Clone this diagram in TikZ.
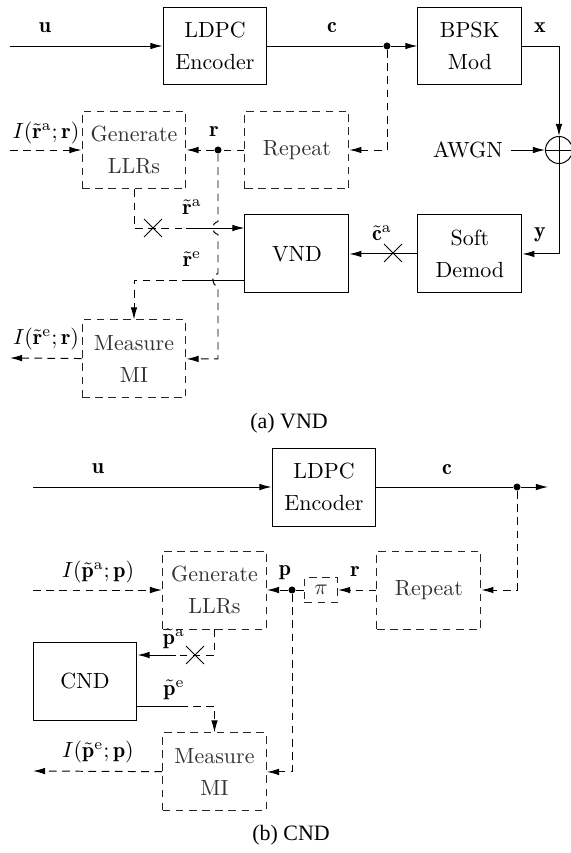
\documentclass[tikz,border=0pt]{standalone}
\usepackage{fontspec}
\newfontfamily\capfont{Liberation Serif}
\usetikzlibrary{arrows.meta, positioning, calc, shapes.misc}
\tikzset{
  block/.style={draw, align=center, minimum width=1.664cm, minimum height=1.248cm, inner sep=2pt, font=\linespread{1.2}\selectfont},
  dblock/.style={block, strich, draw=black!85, text=black!80},
  strich/.style={dash pattern=on 3.5pt off 2.5pt},
  pfeil/.style={-{Latex[length=5.5pt,width=3pt]}},
  punkt/.style={circle, fill, inner sep=0pt, minimum size=3.2pt},
  kreuz/.style={cross out, draw, inner sep=0pt, minimum size=0.27cm},
}
\begin{document}
\begin{tikzpicture}[x=0.016cm, y=0.016cm, line width=0.45pt]
    \useasboundingbox (0,0) rectangle (571,-853);
    % (a) VND
    \node[block] (enca) at (215,-46) {LDPC\\Encoder};
    \node[block, right=2.4cm of enca] (bpsk) {BPSK\\Mod};
    \node[dblock] (gena) at (134,-150) {Generate\\LLRs};
    \node[dblock, right=0.928cm of gena] (repa) {Repeat};
    \node[block, below=0.4cm of repa] (vnd) {VND};
    \node[block] (demod) at (bpsk |- vnd) {Soft\\Demod};
    \node[dblock, below=2.08cm of gena] (mesa) {Measure\\MI};
    \node[draw, circle, inner sep=0pt, minimum size=0.432cm] (add) at (559,-150) {};
    \node (awgn) at (468,-150) {AWGN};
    \node[punkt] (cdota) at (387,-46) {};
    \node[punkt] (rdota) at (218,-150) {};
    \node[kreuz] (xa1) at (153,-228) {};
    \node[kreuz] (xa2) at (393,-253) {};
    \coordinate (ua) at (10,-46);
    \coordinate (ina) at (10,-150);
    \coordinate (outa) at (10,-358);
    \coordinate (ra) at (186,-228);
    \coordinate (re) at (190,-280);
    \coordinate (j1o) at ($(rdota|-ra)+(0,6.5)$);
    \coordinate (j1u) at ($(rdota|-ra)+(0,-6.5)$);
    \coordinate (j2o) at ($(rdota|-re)+(0,6.5)$);
    \coordinate (j2u) at ($(rdota|-re)+(0,-6.5)$);
    \node (lua) at (45,-28) {$\mathbf{u}$};
    \node (lca) at (332,-28) {$\mathbf{c}$};
    \node (lx) at (540,-28) {$\mathbf{x}$};
    \node (ly) at (540,-235) {$\mathbf{y}$};
    \node (lra) at (214,-132) {$\mathbf{r}$};
    \node (lct) at (382,-233) {$\tilde{\mathbf{c}}^{\mathrm{a}}$};
    \node (lrta) at (192,-207) {$\tilde{\mathbf{r}}^{\mathrm{a}}$};
    \node (lrte) at (192,-259) {$\tilde{\mathbf{r}}^{\mathrm{e}}$};
    \node (lia) at (46,-133) {$I(\tilde{\mathbf{r}}^{\mathrm{a}};\mathbf{r})$};
    \node (lie) at (46,-339) {$I(\tilde{\mathbf{r}}^{\mathrm{e}};\mathbf{r})$};
    \draw[pfeil] (ua) -- (enca);
    \draw (enca) -- (cdota);
    \draw[pfeil] (cdota) -- (bpsk);
    \draw[pfeil] (bpsk.east) -| (add.north);
    \draw (add.north) -- (add.south) (add.west) -- (add.east);
    \draw[pfeil] (awgn) -- (add);
    \draw[pfeil] (add.south) |- (demod.east);
    \draw[pfeil] (demod) -- (vnd);
    \draw[strich, pfeil] (cdota) |- (repa);
    \draw[strich] (repa) -- (rdota);
    \draw[strich, pfeil] (rdota) -- (gena);
    \draw[strich, pfeil] (ina) -- (gena);
    \draw[strich] (gena.south) |- (ra);
    \draw[pfeil] (ra) -- (ra -| vnd.west);
    \draw (re -| vnd.west) -- (re);
    \draw[strich, pfeil] (re) -| (mesa.north);
    \draw[strich, pfeil] (rdota) -- (j1o) .. controls ($(j1o)+(-7,-2)$) and ($(j1u)+(-7,2)$) .. (j1u) -- (j2o) .. controls ($(j2o)+(-7,-2)$) and ($(j2u)+(-7,2)$) .. (j2u) |- (mesa.east);
    \draw[strich, pfeil] (mesa) -- (outa);
    \node[font=\capfont] (capa) at (289,-423) {(a) VND};
    % (b) CND
    \node[block] (encb) at (324,-487) {LDPC\\Encoder};
    \node[dblock] (genb) at (214.5,-590) {Generate\\LLRs};
    \node[dblock, right=1.752cm of genb] (repb) {Repeat};
    \node[dblock, minimum width=0.53cm, minimum height=0.4cm, inner sep=0pt] (pi) at (321,-590) {$\pi$};
    \node[block] (cnd) at (85,-681) {CND};
    \node[dblock, below=1.648cm of genb] (mesb) {Measure\\MI};
    \node[punkt] (cdotb) at (517,-487) {};
    \node[punkt] (pdot) at (292,-590) {};
    \node[kreuz] (xb) at (195,-655) {};
    \coordinate (ub) at (33,-487);
    \coordinate (cendb) at (548,-487);
    \coordinate (inb) at (33,-590);
    \coordinate (outb) at (33,-771);
    \coordinate (pa) at (176,-655);
    \coordinate (pe) at (180,-706);
    \node (lub) at (98,-469) {$\mathbf{u}$};
    \node (lcb) at (447,-470) {$\mathbf{c}$};
    \node (lrb) at (355,-572) {$\mathbf{r}$};
    \node (lp) at (285,-573) {$\mathbf{p}$};
    \node (lpta) at (174,-639) {$\tilde{\mathbf{p}}^{\mathrm{a}}$};
    \node (lpte) at (174,-690) {$\tilde{\mathbf{p}}^{\mathrm{e}}$};
    \node (lipa) at (98,-572) {$I(\tilde{\mathbf{p}}^{\mathrm{a}};\mathbf{p})$};
    \node (lipe) at (98,-752) {$I(\tilde{\mathbf{p}}^{\mathrm{e}};\mathbf{p})$};
    \draw[pfeil] (ub) -- (encb);
    \draw (encb) -- (cdotb);
    \draw[pfeil] (cdotb) -- (cendb);
    \draw[strich, pfeil] (cdotb) |- (repb);
    \draw[strich, pfeil] (repb) -- (pi);
    \draw[strich] (pi) -- (pdot);
    \draw[strich, pfeil] (pdot) -- (genb);
    \draw[strich, pfeil] (inb) -- (genb);
    \draw[strich] (genb.south) |- (pa);
    \draw[pfeil] (pa) -- (pa -| cnd.east);
    \draw (cnd.east |- pe) -- (pe);
    \draw[strich, pfeil] (pe) -| (mesb.north);
    \draw[strich, pfeil] (pdot) |- (mesb.east);
    \draw[strich, pfeil] (mesb) -- (outb);
    \node[font=\capfont] (capb) at (291,-835) {(b) CND};
\end{tikzpicture}
\end{document}
